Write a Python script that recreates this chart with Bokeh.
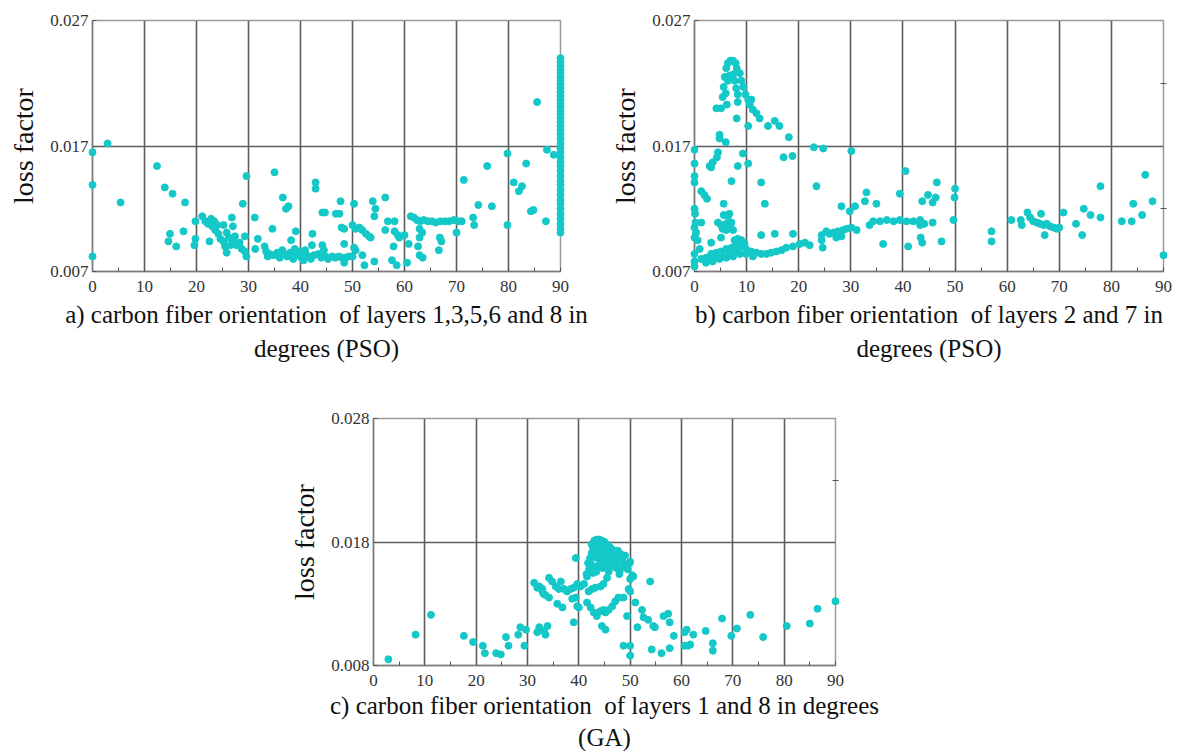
from bokeh.plotting import figure
from bokeh.models import Range1d, FixedTicker, LinearAxis, Title, Spacer, PrintfTickFormatter
from bokeh.layouts import column, row
from bokeh.embed import file_html
from bokeh.resources import INLINE

# ---------------- data ----------------
x_ticks = [0, 10, 20, 30, 40, 50, 60, 70, 80, 90]
x_minor = [5, 15, 25, 35, 45, 55, 65, 75, 85]

a_yticks = [0.007, 0.017, 0.027]
b_yticks = [0.007, 0.017, 0.027]
c_yticks = [0.008, 0.018, 0.028]

a_x = [0, 0, 0, 2.9, 5.4, 12.4, 13.9, 15.4, 17.8, 17.5, 14.9, 14.6, 16.1, 19.8, 19.8, 19.6,
       21.1, 21.7, 22.2, 22.8, 23.0, 23.4, 23.6, 24.0, 24.2, 24.6, 25.2, 25.5, 25.8, 22.5, 25.2,
       25.8, 26.2, 26.8, 27.0, 27.4, 26.5, 27.0, 27.7, 28.3, 28.7, 29.3, 29.3, 29.6, 28.9, 29.6,
       31.2, 31.8, 31.3, 33.1, 33.4, 33.7, 34.6, 35.0, 36.6, 37.2, 37.7, 39.1, 38.2, 42.3, 42.9,
       42.9, 42.2, 44.2,
       34.0, 34.8, 35.5, 36.0, 36.8, 37.4, 38.0, 38.6, 39.2, 39.8, 40.2, 40.6, 41.0, 41.5, 42.0,
       42.6, 43.5, 44.0, 44.8, 45.3, 46.1, 46.7, 47.4, 48.0, 48.7, 49.3, 48.4, 50.0, 36.5, 38.9,
       40.9, 44.2, 44.5,
       44.7, 46.8, 47.5, 47.7, 50.3, 53.9, 56.3, 54.4, 54.2, 48.4, 47.9, 50.0, 50.6, 51.3, 51.9,
       52.6, 53.2, 53.5, 48.4, 50.3, 50.6, 51.9, 52.3, 54.2, 56.8, 58.1, 56.3, 58.1, 58.7, 59.0,
       60.0, 57.9, 57.6, 58.5, 60.5, 60.8, 61.2, 61.8, 62.4, 63.0, 63.7, 64.5, 65.3, 66.0, 66.9,
       67.8, 68.6, 69.5, 70.4, 71.0, 62.9, 63.4, 62.9, 62.6, 62.9, 63.5, 66.8, 67.1, 66.6, 70.0,
       71.4, 73.2, 73.4, 74.2, 75.9, 76.8, 79.8, 79.8, 81.0, 82.6, 82.0, 83.4, 84.3, 84.8, 85.5,
       87.2, 87.4, 88.7,
       90, 90, 90, 90, 90, 90, 90, 90, 90, 90, 90, 90, 90, 90, 90, 90, 90, 90, 90, 90, 90,
       90, 90, 90, 90, 90, 90, 90, 90, 90, 90, 90, 90, 90, 90, 90, 90, 90, 90, 90, 90, 90]
a_y = [0.0165, 0.0139, 0.0082, 0.0172, 0.0125, 0.0154, 0.0137, 0.0132, 0.0125, 0.0102, 0.0100,
       0.0094, 0.0090, 0.0110, 0.0096, 0.0091,
       0.0114, 0.0110, 0.0108, 0.0112, 0.0106, 0.0110, 0.0103, 0.0107, 0.0100, 0.0096, 0.0094,
       0.0090, 0.0085, 0.0094, 0.0107, 0.0101, 0.0097, 0.0113, 0.0106, 0.0098, 0.0091, 0.0093,
       0.0091, 0.0093, 0.0088, 0.0086, 0.0098, 0.0082, 0.0124, 0.0146,
       0.0113, 0.0096, 0.0088, 0.0090, 0.0086, 0.0082, 0.0104, 0.0149, 0.0129, 0.0120, 0.0122,
       0.0102, 0.0095, 0.0100, 0.0141, 0.0136, 0.0091, 0.0117,
       0.0084, 0.0083, 0.0085, 0.0081, 0.0084, 0.0082, 0.0085, 0.0080, 0.0083, 0.0086, 0.0081,
       0.0079, 0.0084, 0.0082, 0.0080, 0.0083, 0.0084, 0.0081, 0.0082, 0.0080, 0.0082, 0.0081,
       0.0082, 0.0081, 0.0081, 0.0082, 0.0077, 0.0082, 0.0087, 0.0088, 0.0087, 0.0091, 0.0087,
       0.0117, 0.0116, 0.0116, 0.0126, 0.0124, 0.0126, 0.0129, 0.0120, 0.0114, 0.0104, 0.0105,
       0.0107, 0.0104, 0.0105, 0.0103, 0.0100, 0.0098, 0.0097, 0.0092, 0.0089, 0.0087, 0.0083,
       0.0075, 0.0078, 0.0110, 0.0110, 0.0103, 0.0102, 0.0099, 0.0097, 0.0099, 0.0090, 0.0079,
       0.0075, 0.0077, 0.0092, 0.0114, 0.0113, 0.0111, 0.0110, 0.0111, 0.0110, 0.0110, 0.0109,
       0.0110, 0.0110, 0.0110, 0.0111, 0.0110, 0.0110, 0.0104, 0.0101, 0.0097, 0.0090, 0.0083,
       0.0081, 0.0097, 0.0094, 0.0087, 0.0101, 0.0143, 0.0113, 0.0107, 0.0123, 0.0154, 0.0122,
       0.0164, 0.0107, 0.0141, 0.0138, 0.0134, 0.0156, 0.0118, 0.0119, 0.0205, 0.0110, 0.0167,
       0.0163,
       0.0240, 0.0237, 0.0234, 0.0231, 0.0228, 0.0225, 0.0222, 0.0219, 0.0216, 0.0213, 0.0210,
       0.0207, 0.0204, 0.0201, 0.0198, 0.0195, 0.0192, 0.0189, 0.0186, 0.0183, 0.0180, 0.0176,
       0.0172, 0.0168, 0.0165, 0.0161, 0.0157, 0.0154, 0.0150, 0.0146, 0.0142, 0.0139, 0.0135,
       0.0131, 0.0127, 0.0124, 0.0120, 0.0116, 0.0112, 0.0108, 0.0104, 0.0101]

b_x = [5.1, 5.4, 5.6, 5.8, 6.1, 6.4, 6.9, 7.4, 7.9, 8.1, 8.7, 9.0, 9.4, 9.8, 10.3, 10.9, 10.6,
       11.2, 11.9, 12.5, 14.1, 15.4, 16.3, 18.1, 6.4, 6.7, 7.4, 7.7, 8.0, 8.3, 8.3, 6.0, 6.2,
       8.1, 10.3, 4.2, 4.8, 4.8, 6.0, 4.5, 4.3, 3.5, 3.2, 2.9, 0, 0, 0, 0, 9.3, 10.3, 8.3, 7.1,
       12.8, 13.5, 17.1, 18.8, 22.9, 24.7, 30.1, 23.4, 1.3, 1.9, 2.4, 5.6,
       0, 0.1, 0.2, 0, 0.3, 0, 1.3,
       4.5, 5.1, 5.6, 6.4, 7.1, 6.7, 6.1, 5.4, 7.4, 5.1, 6.1, 6.7,
       1.3, 2.2, 3.2, 4.2, 5.1, 6.1, 7.1, 8.0, 9.0, 9.9, 10.9, 11.9, 12.8, 13.8, 14.7, 15.7,
       2.2, 3.5, 4.8, 6.1, 7.4, 8.7, 9.9, 11.2, 2.9, 4.2, 5.4, 6.7, 8.0, 8.7, 7.7, 8.3, 9.0, 9.6,
       0.6, 1.0, 0, 0, 0, 3.2,
       16.7, 17.6, 18.9, 20.2, 21.2, 22.1, 12.8, 15.4, 18.9, 24.4, 24.4, 24.6,
       25.3, 26.6, 27.5, 28.5, 29.2, 28.2, 27.2, 25.9, 30.1, 31.1, 28.2, 29.8, 30.8,
       33.0, 32.7, 34.9, 33.6, 34.3, 35.6, 36.9, 38.2, 39.4, 40.7, 42.0, 43.3, 41.0, 36.2, 43.3,
       39.4, 40.5,
       46.5, 44.8, 46.3, 45.7, 43.7, 50.0, 49.9, 49.7, 44.1, 45.7, 43.7, 43.4, 47.4, 57.0, 57.0,
       60.8, 62.6, 62.8, 63.9, 64.4, 65.0, 65.7, 66.3, 67.0, 67.6, 68.2, 68.9, 69.5, 70.0, 66.5,
       67.2, 70.8, 73.2, 74.4, 74.7, 76.0, 77.9, 77.9, 82.0, 83.9, 84.2, 85.9, 86.5, 87.9, 90.0]
b_y = [0.0200, 0.0209, 0.0217, 0.0225, 0.0232, 0.0236, 0.0238, 0.0238, 0.0236, 0.0232, 0.0228,
       0.0222, 0.0217, 0.0211, 0.0207, 0.0207, 0.0203, 0.0199, 0.0196, 0.0192, 0.0186, 0.0190,
       0.0186, 0.0177, 0.0222, 0.0226, 0.0227, 0.0222, 0.0216, 0.0211, 0.0205, 0.0212, 0.0203,
       0.0192, 0.0186, 0.0200, 0.0179, 0.0176, 0.0173, 0.0165, 0.0161, 0.0157, 0.0153, 0.0154,
       0.0167, 0.0156, 0.0146, 0.0141, 0.0164, 0.0156, 0.0154, 0.0142, 0.0141, 0.0124, 0.0161,
       0.0162, 0.0169, 0.0168, 0.0166, 0.0138, 0.0134, 0.0131, 0.0128, 0.0124,
       0.0120, 0.0116, 0.0109, 0.0105, 0.0101, 0.0097, 0.0109,
       0.0109, 0.0107, 0.0115, 0.0114, 0.0109, 0.0105, 0.0103, 0.0104, 0.0103, 0.0097, 0.0108,
       0.0116,
       0.0080, 0.0081, 0.0084, 0.0085, 0.0086, 0.0088, 0.0089, 0.0092, 0.0090, 0.0088, 0.0086,
       0.0085, 0.0084, 0.0084, 0.0085, 0.0086,
       0.0077, 0.0078, 0.0080, 0.0081, 0.0082, 0.0084, 0.0084, 0.0082, 0.0080, 0.0081, 0.0082,
       0.0084, 0.0086, 0.0090, 0.0095, 0.0096, 0.0095, 0.0092,
       0.0095, 0.0088, 0.0084, 0.0078, 0.0074, 0.0093,
       0.0087, 0.0089, 0.0090, 0.0092, 0.0093, 0.0091, 0.0099, 0.0100, 0.0100, 0.0099, 0.0095,
       0.0089,
       0.0102, 0.0101, 0.0102, 0.0103, 0.0104, 0.0098, 0.0097, 0.0100, 0.0105, 0.0103, 0.0122,
       0.0118, 0.0122,
       0.0133, 0.0126, 0.0124, 0.0107, 0.0110, 0.0110, 0.0111, 0.0110, 0.0111, 0.0110, 0.0110,
       0.0111, 0.0090, 0.0092, 0.0107, 0.0132, 0.0150,
       0.0141, 0.0131, 0.0129, 0.0125, 0.0126, 0.0136, 0.0129, 0.0111, 0.0108, 0.0109, 0.0093,
       0.0097, 0.0094, 0.0102, 0.0094,
       0.0111, 0.0111, 0.0107, 0.0117, 0.0113, 0.0110, 0.0109, 0.0108, 0.0107, 0.0108, 0.0106,
       0.0105, 0.0104, 0.0105, 0.0116, 0.0099, 0.0117, 0.0108, 0.0099, 0.0120, 0.0115, 0.0138,
       0.0113, 0.0110, 0.0110, 0.0124, 0.0115, 0.0147, 0.0126, 0.0083]

c_x = [2.9, 8.2, 11.2, 17.6, 19.4, 21.3, 21.7, 23.9, 24.8, 25.8, 26.3, 28.2, 28.6, 29.7, 29.4,
       31.9, 32.3, 33.2, 33.5, 33.9, 31.3, 32.3, 32.9, 33.5, 34.2, 31.9, 32.9, 33.1,
       34.2, 34.8, 35.5, 36.1, 36.5, 37.1, 37.7, 38.4, 39.0, 39.7, 40.3, 41.0, 35.8, 36.8, 38.7,
       39.4, 39.7, 40.0, 39.0, 39.4,
       41.6, 41.9, 42.6, 43.2, 44.2, 44.8, 45.5, 41.6, 42.3, 42.9, 43.5, 44.2, 44.8, 44.5, 45.2,
       42.5, 43.0, 43.5, 44.0, 44.5, 45.0, 45.5, 46.0, 42.8, 43.3, 43.8, 44.3, 44.8, 45.3, 46.5,
       47.0, 47.6, 48.2, 42.5, 43.0, 43.6, 44.2, 44.9, 45.6, 46.2, 42.2, 42.9, 43.6, 44.4, 45.1,
       46.0, 46.8, 47.5, 48.5, 49.0, 50.0, 41.8, 42.6, 47.3, 48.0, 49.9, 50.4,
       42.0, 42.4, 43.1, 43.9, 44.6, 45.4, 46.3, 47.2, 48.8, 49.5, 43.4, 45.8, 47.9, 41.5, 42.8,
       50.6, 50.0, 53.9, 49.7, 48.7, 47.7, 47.1, 46.5, 45.8, 45.2, 50.0, 51.0, 52.3, 52.6, 53.5,
       54.5, 54.8, 49.4, 56.5, 57.4, 57.7, 51.4, 58.5, 60.6, 61.0, 62.3, 60.6, 61.3, 61.7, 57.7,
       56.1, 54.2, 48.7, 50.0, 50.0, 64.7, 66.1, 66.1, 67.9, 69.7, 70.8, 73.4, 75.9, 80.5, 85.0,
       86.5, 90.0]
c_y = [0.0085, 0.0105, 0.0121, 0.0104, 0.0099, 0.0096, 0.0090, 0.0090, 0.0089, 0.0103, 0.0096,
       0.0105, 0.0111, 0.0109, 0.0096,
       0.0107, 0.0111, 0.0108, 0.0105, 0.0112, 0.0147, 0.0144, 0.0140, 0.0137, 0.0135, 0.0143,
       0.0142, 0.0138,
       0.0151, 0.0148, 0.0144, 0.0142, 0.0148, 0.0142, 0.0140, 0.0142, 0.0143, 0.0146, 0.0144,
       0.0146, 0.0130, 0.0127, 0.0134, 0.0135, 0.0128, 0.0127, 0.0115, 0.0167,
       0.0152, 0.0140, 0.0142, 0.0143, 0.0144, 0.0146, 0.0151, 0.0131, 0.0127, 0.0123, 0.0120,
       0.0124, 0.0125, 0.0112, 0.0109,
       0.0178, 0.0181, 0.0182, 0.0182, 0.0181, 0.0180, 0.0178, 0.0176, 0.0175, 0.0177, 0.0178,
       0.0177, 0.0176, 0.0174, 0.0174, 0.0172, 0.0173, 0.0170, 0.0171, 0.0172, 0.0173, 0.0172,
       0.0171, 0.0170, 0.0169, 0.0167, 0.0168, 0.0167, 0.0166, 0.0165, 0.0164, 0.0166, 0.0163,
       0.0165, 0.0169, 0.0164, 0.0163, 0.0160, 0.0159, 0.0157, 0.0163, 0.0153,
       0.0158, 0.0162, 0.0160, 0.0161, 0.0159, 0.0161, 0.0160, 0.0167, 0.0160, 0.0158, 0.0156,
       0.0156, 0.0154, 0.0154, 0.0155,
       0.0152, 0.0150, 0.0148, 0.0142, 0.0135, 0.0135, 0.0132, 0.0128, 0.0125, 0.0123, 0.0140,
       0.0131, 0.0125, 0.0119, 0.0117, 0.0112, 0.0111, 0.0120, 0.0120, 0.0122, 0.0115, 0.0111,
       0.0104, 0.0107, 0.0109, 0.0105, 0.0096, 0.0096, 0.0097, 0.0094, 0.0090, 0.0093, 0.0096,
       0.0096, 0.0088, 0.0108, 0.0098, 0.0092, 0.0118, 0.0104, 0.0110, 0.0121, 0.0103, 0.0112,
       0.0114, 0.0126, 0.0132]

cap_a = ["a) carbon fiber orientation\u00a0 of layers 1,3,5,6 and 8 in", "degrees (PSO)"]
cap_b = ["b) carbon fiber orientation\u00a0 of layers 2 and 7 in", "degrees (PSO)"]
cap_c = ["c) carbon fiber orientation\u00a0 of layers 1 and 8 in degrees", "(GA)"]

DOT = "#14C8C8"
SERIF = "Liberation Serif"


def panel(xs, ys, yt, caps, fw, fh, bl, br, bt, bb, s1):
    p = figure(frame_width=fw, frame_height=fh, x_range=Range1d(0, 90),
               y_range=Range1d(yt[0], yt[2]), output_backend="svg", toolbar_location=None,
               min_border_left=bl, min_border_right=br, min_border_top=bt, min_border_bottom=bb)
    p.outline_line_color = "#9a9a9a"
    p.outline_line_width = 1.5
    p.xaxis.ticker = FixedTicker(ticks=x_ticks, minor_ticks=x_minor)
    p.yaxis.ticker = FixedTicker(ticks=yt, minor_ticks=[])
    p.yaxis.formatter = PrintfTickFormatter(format="%.3f")
    for ax in (p.xaxis[0], p.yaxis[0]):
        ax.axis_line_color = "#7a7a7a"
        ax.axis_line_width = 1.5
        ax.major_tick_line_color = "#555555"
        ax.minor_tick_line_color = "#555555"
        ax.major_tick_in = 4
        ax.major_tick_out = 0
        ax.minor_tick_in = 4
        ax.minor_tick_out = 0
        ax.major_label_text_font = SERIF
        ax.major_label_text_font_size = "17px"
        ax.major_label_text_color = "#333333"
    p.xaxis.major_label_standoff = 9
    p.yaxis.major_label_standoff = 4
    p.yaxis.axis_label = "loss factor"
    p.yaxis.axis_label_text_font = SERIF
    p.yaxis.axis_label_text_font_size = "28px"
    p.yaxis.axis_label_text_font_style = "normal"
    p.yaxis.axis_label_text_color = "#111111"
    p.yaxis.axis_label_standoff = 8
    p.xgrid.ticker = FixedTicker(ticks=x_ticks[1:-1])
    p.ygrid.ticker = FixedTicker(ticks=[yt[1]])
    for g in (p.xgrid[0], p.ygrid[0]):
        g.grid_line_color = "#5c5c5c"
        g.grid_line_width = 1.6
    ra = LinearAxis(ticker=FixedTicker(ticks=[(yt[0] + yt[1]) / 2, (yt[1] + yt[2]) / 2]),
                    major_label_text_alpha=0, axis_line_color=None,
                    major_tick_line_color="#555555", major_tick_in=3, major_tick_out=3)
    p.add_layout(ra, "right")
    r = p.scatter(xs, ys, size=7, color=DOT, marker="circle")
    r.level = "overlay"
    for i, c in enumerate(caps):
        p.add_layout(Title(text=c, align="center", text_font=SERIF, text_font_size="25px",
                           text_font_style="normal", text_color="#111111",
                           standoff=s1 if i == 0 else 2), "below")
    return p


pa = panel(a_x, a_y, a_yticks, cap_a, 468, 251, 92, 47, 19, 105, 8)
pb = panel(b_x, b_y, b_yticks, cap_b, 469, 251, 80, 12, 20, 104, 8)
pc = panel(c_x, c_y, c_yticks, cap_c, 462, 247, 84, 60, 43, 0, 3)

layout = column(row(pa, pb), row(Spacer(width=286, height=10), pc))
open("out.html", "w").write(file_html(layout, INLINE))
